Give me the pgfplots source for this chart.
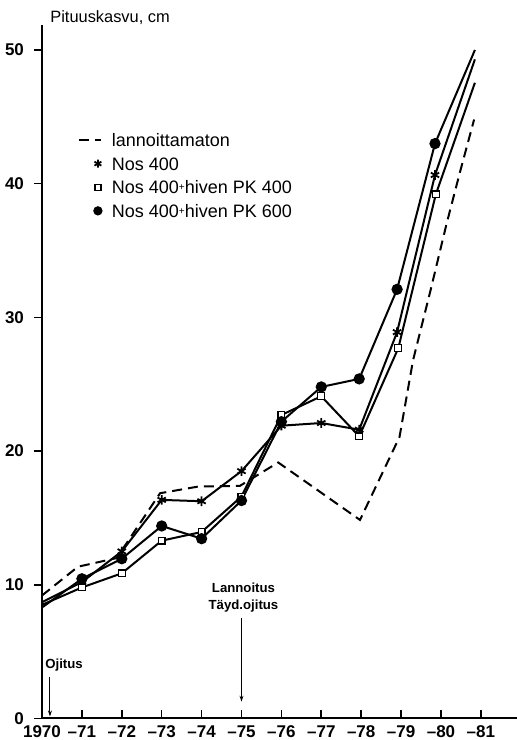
\documentclass[border=0pt]{standalone}
\usepackage{fontspec}
\setmainfont{Liberation Sans}
\usepackage{pgfplots}
\pgfplotsset{compat=1.18}
\usetikzlibrary{arrows.meta}

\pgfplotsset{
  legdash/.style={legend image code/.code={\draw[##1] (0pt,0pt) -- (11pt,0pt);}},
  legmark/.style={legend image code/.code={%
    \draw[##1, mark phase=1, mark size=#1] plot coordinates {(9.5pt,0pt)};}},
}

\begin{document}
\begin{tikzpicture}
\begin{axis}[
  name=ax,
  scale only axis,
  width=237.4pt, height=346.75pt,
  xmin=0, xmax=11.9, ymin=0, ymax=51.87,
  axis x line*=bottom, axis y line*=left,
  axis line style={line width=1pt},
  xtick={0,...,11},
  xticklabels={1970,--71,--72,--73,--74,--75,--76,--77,--78,--79,--80,--81},
  ytick={0,10,20,30,40,50},
  xtick align=inside, ytick align=outside,
  major tick length=4pt,
  tick style={line width=0.8pt, black},
  tick label style={font=\bfseries\fontsize{8.5}{10}\selectfont},
  yticklabel style={xshift=-1.5pt},
  /pgf/number format/assume math mode=true,
  clip=false,
  legend style={at={(axis cs:0.9,43.9)}, anchor=north west, draw=none, fill=none,
    inner sep=0pt, outer sep=0pt, row sep=3.3pt, column sep=4pt,
    font=\fontsize{9}{10}\selectfont,
    nodes={inner sep=1pt, text height=6.5pt, text depth=0pt},
    cells={anchor=west}},
]
% lannoittamaton
\addplot[black, line width=1pt, dash pattern=on 5pt off 3pt, legdash] coordinates {
  (0,9.2) (0.9,11.35) (1.87,12.0) (2.96,16.85) (3.92,17.35) (4.96,17.4)
  (5.92,19.15) (7.97,14.85) (8.96,21.05) (9.3,26.8) (9.72,31.8)
  (10.14,37.0) (10.47,40.8) (10.83,44.8)
};
\addlegendentry{lannoittamaton}
% Nos 400
\addplot[black, line width=1pt, mark=asterisk, mark size=2.4pt,
  mark repeat=1, mark phase=2, mark options={line width=0.9pt}, legmark=2pt] coordinates {
  (0,8.7) (1,10.2) (2,12.5) (3,16.35) (4,16.25) (5,18.5) (6,21.9)
  (7,22.1) (7.95,21.6) (8.9,28.9) (9.85,40.65)
};
\addlegendentry{Nos 400}
\addplot[black, line width=1pt, forget plot] coordinates {(9.85,40.65) (10.85,49.3)};
% Nos 400 + hiven PK 400
\addplot[black, line width=1pt, mark=square*, mark size=1.7pt,
  mark repeat=1, mark phase=2, mark options={line width=0.6pt, fill=white}, legmark=1.5pt] coordinates {
  (0,8.5) (1,9.8) (2,10.86) (3,13.3) (4,13.95) (5,16.6) (6,22.7)
  (7,24.1) (7.95,21.1) (8.93,27.7) (9.87,39.2)
};
\addlegendentry{Nos 400\raisebox{1.6pt}{\fontsize{5}{5}\selectfont+}hiven PK 400}
\addplot[black, line width=1pt, forget plot] coordinates {(9.87,39.2) (10.85,47.55)};
% Nos 400 + hiven PK 600
\addplot[black, line width=1pt, mark=*, mark size=2.3pt,
  mark repeat=1, mark phase=2, legmark=1.8pt] coordinates {
  (0,8.3) (1,10.45) (2,11.95) (3,14.4) (4,13.45) (5,16.3) (6,22.2)
  (7,24.8) (7.95,25.4) (8.9,32.1) (9.85,43.0)
};
\addlegendentry{Nos 400\raisebox{1.6pt}{\fontsize{5}{5}\selectfont+}hiven PK 600}
\addplot[black, line width=1pt, forget plot] coordinates {(9.85,43.0) (10.85,50.0)};

\node[anchor=base west, inner sep=0pt, font=\fontsize{8.2}{9}\selectfont]
  at (axis cs:0.2,52.05) {Pituuskasvu, cm};
\node[anchor=west, inner sep=0pt, font=\bfseries\fontsize{6.6}{8}\selectfont]
  at (axis cs:0.075,4.0) {Ojitus};
\draw[line width=0.5pt, -{Stealth[length=3pt,width=2pt]}]
  (axis cs:0.2,3.1) -- (axis cs:0.2,0.15);
\node[align=center, inner sep=0pt, font=\bfseries\fontsize{6.6}{8.85}\selectfont]
  at (axis cs:5.05,9.05) {Lannoitus\\Täyd.ojitus};
\draw[line width=0.5pt, -{Stealth[length=3pt,width=2pt]}]
  (axis cs:5,7.52) -- (axis cs:5,1.26);
\end{axis}
\pgfresetboundingbox
\path[use as bounding box] ([shift={(-21pt,-10.75pt)}]ax.south west)
  rectangle ([shift={(0.1pt,12.5pt)}]ax.north east);
\end{tikzpicture}
\end{document}
